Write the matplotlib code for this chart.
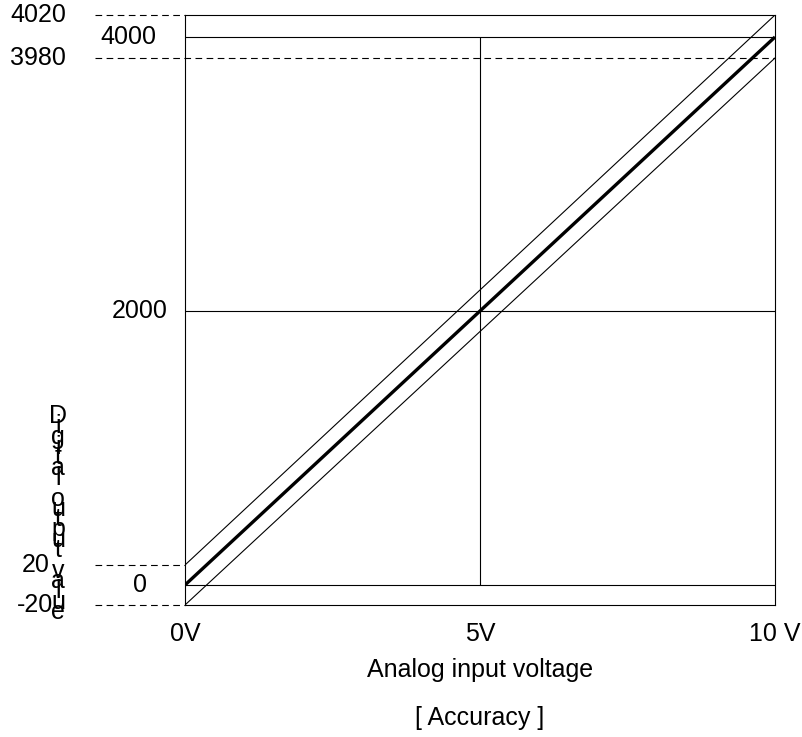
import numpy as np
import matplotlib
matplotlib.use('Agg')
import matplotlib.pyplot as plt

# data
volts = [0, 10]
ideal = [0, 4000]
upper = [20, 4020]
lower = [-20, 3980]
x_ticks = [0, 5, 10]
x_labels = ['0V', '5V', '10 V']
solid_levels = [0, 2000, 4000]
dash_outside = [4020, 20, -20]
dash_through = [3980]
ylabel_text = 'Digital output value'

# schematic (non-linear) y scale: the +/-20 tolerance is exaggerated
knot_val = np.array([-20, 0, 20, 2000, 3980, 4000, 4020], dtype=float)
knot_pos = np.array([0, 20, 40, 294, 547, 568, 590], dtype=float)

def fwd(v):
    return np.interp(v, knot_val, knot_pos)

def inv(p):
    return np.interp(p, knot_pos, knot_val)

plt.rcParams['font.family'] = ['Liberation Sans', 'DejaVu Sans']
fs = 18

W, H = 803, 737
fig = plt.figure(figsize=(W / 100, H / 100), dpi=100)
ax = fig.add_axes([185 / W, 1 - 605 / H, 590 / W, 590 / H])
ax.set_yscale('function', functions=(fwd, inv))
ax.set_xlim(0, 10)
ax.set_ylim(-20, 4020)

# lines
ax.plot(volts, ideal, color='black', lw=2.4, solid_capstyle='butt')
ax.plot(volts, upper, color='black', lw=0.8)
ax.plot(volts, lower, color='black', lw=0.8)
ax.hlines(solid_levels, 0, 10, color='black', lw=0.8)
ax.vlines(5, 0, 4000, color='black', lw=0.8)

x_out = -1.53
for lv in dash_outside:
    ax.plot([x_out, 0], [lv, lv], color='black', lw=0.8, ls=(0, (6, 4)), clip_on=False)
for lv in dash_through:
    ax.plot([x_out, 10], [lv, lv], color='black', lw=0.8, ls=(0, (6, 4)), clip_on=False)

for sp in ax.spines.values():
    sp.set_linewidth(0.8)

# ticks
ax.set_xticks(x_ticks)
ax.set_xticklabels(x_labels, fontsize=fs)
ax.tick_params(axis='x', length=0, pad=12)
ax.set_yticks([])
ax.yaxis.set_minor_locator(matplotlib.ticker.NullLocator())

# y labels placed by hand (schematic)
px = lambda p: (p - 185) / 59.0
ax.text(px(10), 4020, '4020', ha='left', va='center', fontsize=fs, clip_on=False)
ax.text(px(10), 3980, '3980', ha='left', va='center', fontsize=fs, clip_on=False)
ax.text(px(128), 4000, '4000', ha='center', va='center', fontsize=fs, clip_on=False)
ax.text(px(140), 2000, '2000', ha='center', va='center', fontsize=fs, clip_on=False)
ax.text(px(140), 0, '0', ha='center', va='center', fontsize=fs, clip_on=False)
ax.text(px(50), 20, '20', ha='right', va='center', fontsize=fs, clip_on=False)
ax.text(px(53), -20, '-20', ha='right', va='center', fontsize=fs, clip_on=False)

# stacked vertical label (characters overlap, as in the original)
fig.text(58 / W, 1 - 514 / H, '\n'.join(ylabel_text), ha='center', va='center',
         fontsize=fs, linespacing=0.28)

fig.text(480 / W, 1 - 670 / H, 'Analog input voltage', ha='center', va='center', fontsize=fs)
fig.text(480 / W, 1 - 718 / H, '[ Accuracy ]', ha='center', va='center', fontsize=fs)

fig.savefig('out.png', dpi=100)
